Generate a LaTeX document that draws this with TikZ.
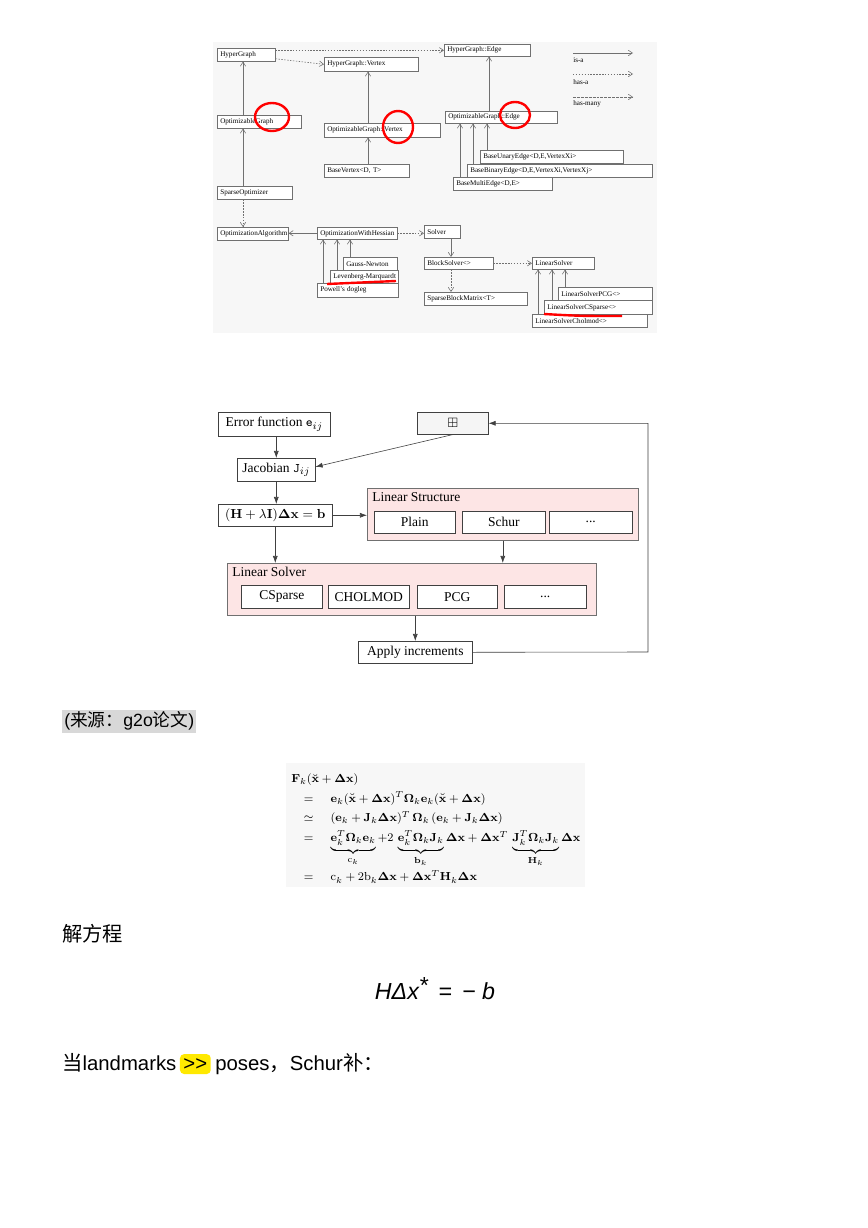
\documentclass[tikz,border=0pt]{standalone}
\usepackage{amsmath,amssymb}
\usepackage[no-math]{fontspec}
\setmainfont{Liberation Serif}
\newfontfamily\lat{Liberation Sans}
\newfontfamily\cjk{Noto Sans CJK SC}
\usetikzlibrary{positioning, arrows.meta}

\newdimen\px
\px=0.242mm
\hyphenpenalty=10000
\exhyphenpenalty=10000

\definecolor{classline}{HTML}{707070}
\definecolor{flowline}{HTML}{404040}
\definecolor{groupfill}{HTML}{FDE5E5}
\definecolor{notefill}{HTML}{D8D8D8}
\definecolor{markyellow}{HTML}{FFE900}
\definecolor{scanbg}{HTML}{F7F7F7}

\begin{document}
\begin{tikzpicture}[
    x=0.242mm, y=-0.242mm,
    classbox/.style = {draw=classline, fill=white, rectangle, anchor=north west,
                       align=left, text width=#1\px, minimum height=13\px,
                       inner xsep=3\px, inner ysep=0pt,
                       font=\fontsize{4.9}{5.6}\selectfont},
    isa/.style = {draw=classline, -{Straight Barb[length=1mm, width=1.3mm]}},
    hasa/.style = {isa, dash pattern=on 1pt off 1pt},
    hasmany/.style = {isa, dash pattern=on 2pt off 0.7pt},
    legendtext/.style = {anchor=west, inner sep=0pt, font=\fontsize{4.9}{5.6}\selectfont},
    redmark/.style = {draw=red, line width=2.4\px},
    stage/.style = {draw=flowline, fill=white, rectangle, anchor=north west,
                    minimum width=#1\px, minimum height=23\px, inner sep=0pt,
                    font=\fontsize{9.3}{11}\selectfont},
    groupbox/.style = {draw=classline, fill=groupfill, rectangle, anchor=north west,
                       minimum width=#1\px, minimum height=52\px, inner sep=0pt},
    grouplabel/.style = {anchor=north west, inner xsep=5\px, inner ysep=4\px,
                         font=\fontsize{9.3}{11}\selectfont},
    flow/.style = {draw=flowline, -{Latex[length=1.7mm, width=1.2mm]}},
    body/.style = {inner sep=0pt, font=\lat\fontsize{14}{17}\selectfont}
]
\fill[white] (0,0) rectangle (868,1228);
\useasboundingbox (0,0) rectangle (868,1228);

% class hierarchy
\fill[scanbg] (213,42) rectangle (657,333);
\node[classbox=52] (hg) at (217,48) {HyperGraph};
\node[classbox=88, minimum height=14\px] (hgv) at (324,57) {HyperGraph::Vertex};
\node[classbox=80, minimum height=12\px] (hge) at (444,44) {HyperGraph::Edge};
\node[classbox=78] (og) at (217,115) {OptimizableGraph};
\node[classbox=110, minimum height=14\px] (ogv) at (324,123) {OptimizableGraph::Vertex};
\node[classbox=106, minimum height=12\px] (oge) at (445,111) {OptimizableGraph::Edge};
\node[classbox=79] (bv) at (324,164) {BaseVertex<D, T>};
\node[classbox=137] (bue) at (480,150) {BaseUnaryEdge<D,E,VertexXi>};
\node[classbox=179] (bbe) at (467,164) {BaseBinaryEdge<D,E,VertexXi,VertexXj>};
\node[classbox=93] (bme) at (453,177) {BaseMultiEdge<D,E>};
\node[classbox=69] (so) at (217,186) {SparseOptimizer};
\node[classbox=65] (oa) at (217,227) {OptimizationAlgorithm};
\node[classbox=74, minimum height=12\px] (owh) at (317,227) {OptimizationWithHessian};
\node[classbox=48] (gn) at (343,257) {Gauss-Newton};
\node[classbox=62] (lm) at (330,270) {Levenberg-Marquardt};
\node[classbox=75, minimum height=14\px] (pd) at (317,283) {Powell's dogleg};
\node[classbox=30] (sol) at (424,225) {Solver};
\node[classbox=63, minimum height=12\px] (bs) at (424,257) {BlockSolver<>};
\node[classbox=97] (sbm) at (424,292) {SparseBlockMatrix<T>};
\node[classbox=56, minimum height=12\px] (ls) at (532,257) {LinearSolver};
\node[classbox=88] (pcg) at (558,287) {LinearSolverPCG<>};
\node[classbox=102, minimum height=14\px] (csp) at (544,300) {LinearSolverCSparse<>};
\node[classbox=109] (chol) at (532,314) {LinearSolverCholmod<>};

\draw[hasa] (hg.east |- hge.west) -- (hge.west);
\draw[hasa] ([yshift=-4\px]hg.east) -- (hgv.west);
\draw[isa] ([xshift=26\px]og.north west) -- ([xshift=26\px]og.north west |- hg.south);
\draw[isa] ([xshift=26\px]so.north west) -- ([xshift=26\px]so.north west |- og.south);
\draw[isa] ([xshift=44\px]ogv.north west) -- ([xshift=44\px]ogv.north west |- hgv.south);
\draw[isa] ([xshift=44\px]bv.north west) -- ([xshift=44\px]bv.north west |- ogv.south);
\draw[isa] ([xshift=44\px]oge.north west) -- ([xshift=44\px]oge.north west |- hge.south);
\draw[isa] ([xshift=7\px]bme.north west) -- ([xshift=7\px]bme.north west |- oge.south);
\draw[isa] ([xshift=6\px]bbe.north west) -- ([xshift=6\px]bbe.north west |- oge.south);
\draw[isa] ([xshift=7\px]bue.north west) -- ([xshift=7\px]bue.north west |- oge.south);
\draw[hasa] ([xshift=26\px]so.south west) -- ([xshift=26\px]so.south west |- oa.north);
\draw[isa] (owh.west) -- (owh.west -| oa.east);
\draw[hasa] (owh.east) -- (owh.east -| sol.west);
\draw[isa] ([xshift=6\px]pd.north west) -- ([xshift=6\px]pd.north west |- owh.south);
\draw[isa] ([xshift=7\px]lm.north west) -- ([xshift=7\px]lm.north west |- owh.south);
\draw[isa] ([xshift=7\px]gn.north west) -- ([xshift=7\px]gn.north west |- owh.south);
\draw[isa] ([xshift=27\px]sol.south west) -- ([xshift=27\px]sol.south west |- bs.north);
\draw[hasa] ([xshift=27\px]bs.south west) -- ([xshift=27\px]bs.south west |- sbm.north);
\draw[hasa] (bs.east) -- (bs.east -| ls.west);
\draw[isa] ([xshift=6\px]chol.north west) -- ([xshift=6\px]chol.north west |- ls.south);
\draw[isa] ([xshift=8\px]csp.north west) -- ([xshift=8\px]csp.north west |- ls.south);
\draw[isa] ([xshift=7\px]pcg.north west) -- ([xshift=7\px]pcg.north west |- ls.south);

% legend
\coordinate (isa0) at (573,53);  \coordinate (isa1) at (633,53);
\coordinate (hasa0) at (573,74); \coordinate (hasa1) at (633,74);
\coordinate (many0) at (573,97); \coordinate (many1) at (633,97);
\draw[isa] (isa0) -- (isa1);
\draw[hasa] (hasa0) -- (hasa1);
\draw[hasmany] (many0) -- (many1);
\node[legendtext] (isalbl) at (573,60) {is-a};
\node[legendtext] (hasalbl) at (573,82) {has-a};
\node[legendtext] (manylbl) at (573,104) {has-many};

% hand marks
\draw[redmark] (272,117) ellipse [x radius=17, y radius=14];
\draw[redmark] (398,127) ellipse [x radius=15, y radius=16];
\draw[redmark] (515,115) ellipse [x radius=15, y radius=13];
\draw[redmark] (327,284) -- (396,281);
\draw[redmark] (544,314) .. controls (580,316) .. (622,316);

% solver pipeline
\node[stage=112, minimum height=24\px] (err) at (218,412) {Error function $\mathtt{e}_{ij}$};
\node[stage=71, minimum height=22\px, fill=gray!8] (upd) at (417,412) {$\boxplus$};
\node[stage=78] (jac) at (237,458) {Jacobian $\mathtt{J}_{ij}$};
\node[stage=114, minimum height=22\px] (eq) at (218,504) {$(\mathbf{H}+\lambda\mathbf{I})\boldsymbol{\Delta}\mathbf{x}=\mathbf{b}$};
\node[groupbox=271, label={[grouplabel]north west:Linear Structure}] (lst) at (367,488) {};
\node[stage=81, minimum height=22\px] (plain) at (374,511) {Plain};
\node[stage=83, minimum height=22\px] (schur) at (462,511) {Schur};
\node[stage=83, minimum height=22\px] (more1) at (549,511) {...};
\node[groupbox=369, label={[grouplabel]north west:Linear Solver}] (lsv) at (227,563) {};
\node[stage=81] (csparse) at (241,585) {CSparse};
\node[stage=81] (cholmod) at (328,585) {CHOLMOD};
\node[stage=80] (pcgsol) at (417,585) {PCG};
\node[stage=82] (more2) at (504,585) {...};
\node[stage=114, minimum height=22\px] (apply) at (358,641) {Apply increments};
\coordinate (loop) at (648,652);

\draw[flow] (err.south -| jac.north) -- (jac.north);
\draw[flow] (upd.south) -- ([yshift=3\px]jac.east);
\draw[flow] (jac.south) -- (jac.south |- eq.north);
\draw[flow] (eq.east) -- (eq.east -| lst.west);
\draw[flow] (eq.south) -- (eq.south |- lsv.north);
\draw[flow] (lst.south) -- (lst.south |- lsv.north);
\draw[flow] (apply.north |- lsv.south) -- (apply.north);
\draw[flow] (apply.east) -- (loop) |- (upd.east);

% notes below
\node[body, fill=notefill, anchor=west, inner xsep=2\px, minimum height=23\px,
      font=\lat\fontsize{12.2}{15}\selectfont] (src) at (62,721) {({\cjk 来源：}g2o{\cjk 论文})};

\fill[scanbg] (286,763) rectangle (585,887);
\node[anchor=north west, inner sep=0pt, font=\fontsize{8.2}{9.84}\selectfont] (fk) at (291,768) {$\renewcommand{\arraystretch}{1.39}
\begin{array}{@{\hspace{1.05em}}c@{\hspace{1.45em}}l@{}}
\multicolumn{2}{@{}l@{}}{\mathbf{F}_k(\breve{\mathbf{x}}+\boldsymbol{\Delta}\mathbf{x})}\\
= & \mathbf{e}_k(\breve{\mathbf{x}}+\boldsymbol{\Delta}\mathbf{x})^T\boldsymbol{\Omega}_k\mathbf{e}_k(\breve{\mathbf{x}}+\boldsymbol{\Delta}\mathbf{x})\\
\simeq & (\mathbf{e}_k+\mathbf{J}_k\boldsymbol{\Delta}\mathbf{x})^T\,\boldsymbol{\Omega}_k\,(\mathbf{e}_k+\mathbf{J}_k\boldsymbol{\Delta}\mathbf{x})\\
= & \underbrace{\mathbf{e}_k^T\boldsymbol{\Omega}_k\mathbf{e}_k}_{\mathrm{c}_k}+2\,\underbrace{\mathbf{e}_k^T\boldsymbol{\Omega}_k\mathbf{J}_k}_{\mathbf{b}_k}\boldsymbol{\Delta}\mathbf{x}+\boldsymbol{\Delta}\mathbf{x}^T\,\underbrace{\mathbf{J}_k^T\boldsymbol{\Omega}_k\mathbf{J}_k}_{\mathbf{H}_k}\boldsymbol{\Delta}\mathbf{x}\\
= & \mathrm{c}_k+2\mathrm{b}_k\boldsymbol{\Delta}\mathbf{x}+\boldsymbol{\Delta}\mathbf{x}^T\mathbf{H}_k\boldsymbol{\Delta}\mathbf{x}
\end{array}$};

\node[body, anchor=west] (solve) at (62,934) {\cjk 解方程};
\node[body, font=\lat\itshape\fontsize{16}{19}\selectfont] (normal) at (435,989) {HΔx\raisebox{0.25em}{*}\, = \,− b};

\node[body, anchor=base west] (when) at (62,1070) {{\cjk 当}landmarks};
\node[body, base right=3\px of when, fill=markyellow, rounded corners=4\px,
      inner xsep=3.5\px, inner ysep=4\px] (much) {>\kern0pt>};
\node[body, base right=4\px of much] (rest) {poses{\cjk ，}Schur{\cjk 补：}};
\end{tikzpicture}
\end{document}
